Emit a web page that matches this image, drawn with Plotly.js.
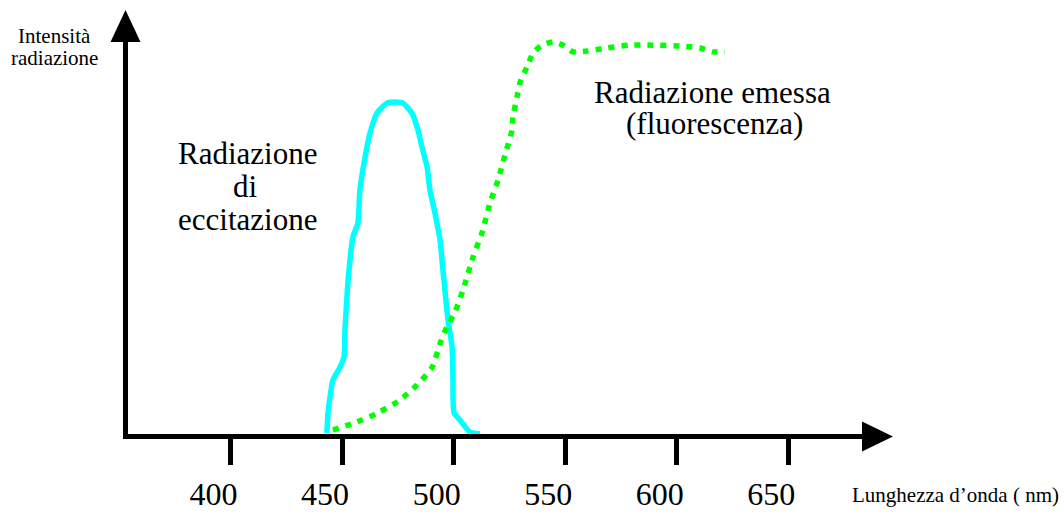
<!DOCTYPE html>
<html>
<head>
<meta charset="utf-8">
<script src="https://cdn.plot.ly/plotly-3.0.1.min.js"></script>
<style>html,body{margin:0;padding:0;background:#fff;}#chart{width:1064px;height:514px;}</style>
</head>
<body>
<div id="chart"></div>
<script>
// Excitation radiation (cyan) — wavelength (nm) and relative intensity
const excitationNm  = [443.2, 443.7, 444.6, 445.9, 449.1, 450.9, 451.3, 452.2, 452.7, 454.9, 457.1, 458.0, 460.3, 462.5, 465.7, 470.1, 473.7, 477.3, 481.3, 484.0, 485.8, 488.1, 489.4, 491.6, 493.9, 495.2, 497.5, 499.3, 499.7, 500.2, 502.8, 507.3, 511.8];
const excitationInt = [0.9, 6.0, 10.0, 14.3, 17.6, 20.2, 27.0, 35.4, 39.7, 50.6, 54.1, 62.5, 70.8, 76.9, 82.0, 84.5, 84.8, 84.5, 82.0, 77.7, 73.4, 68.3, 62.5, 56.7, 49.8, 42.2, 29.5, 22.7, 14.3, 6.0, 4.2, 1.1, 0.7];

// Emitted radiation (green, fluorescence)
const emissionNm  = [445.9, 456.7, 466.1, 476.0, 483.6, 490.4, 494.0, 497.0, 500.6, 504.2, 508.7, 512.7, 516.3, 519.9, 523.0, 526.2, 526.6, 528.4, 529.7, 532.9, 535.6, 539.6, 544.5, 549.0, 553.5, 559.8, 568.8, 579.0, 589.4, 601.5, 610.4, 616.3, 621.6];
const emissionInt = [1.6, 3.7, 6.0, 9.3, 13.1, 17.6, 23.7, 27.8, 31.6, 37.1, 45.5, 51.6, 59.2, 65.0, 71.4, 77.7, 81.0, 86.1, 89.6, 93.7, 97.2, 99.2, 100.0, 99.2, 97.5, 97.7, 98.5, 99.2, 99.2, 99.0, 98.5, 97.5, 97.5];

const tickValues = [400, 450, 500, 550, 600, 650];
const tickLabels = ["400", "450", "500", "550", "600", "650"];

const labelExcitation = ["Radiazione", "di", "eccitazione"];
const labelEmission = ["Radiazione emessa", "(fluorescenza)"];
const yAxisLabel = ["Intensità", "radiazione"];
const xAxisLabel = "Lunghezza d’onda ( nm)";

const serif = "Liberation Serif";

const traces = [
  {x: excitationNm, y: excitationInt, mode: "lines", type: "scatter",
   line: {color: "#00FFFF", width: 5.5, shape: "spline", smoothing: 0.6}, hoverinfo: "skip"},
  {x: emissionNm, y: emissionInt, mode: "lines", type: "scatter",
   line: {color: "#00FF00", width: 5.5, dash: "6px,7px", shape: "spline", smoothing: 0.6}, hoverinfo: "skip"}
];

function ann(text, x, y, size, xref, yref) {
  return {text: text, x: x, y: y, xref: xref || "x", yref: yref || "y", showarrow: false,
          xanchor: "center", yanchor: "middle", font: {family: serif, size: size, color: "#000"}};
}

const annotations = [
  ann(labelExcitation[0], 407.8, 71.7, 31),
  ann(labelExcitation[1], 406.5, 63.3, 31),
  ann(labelExcitation[2], 407.4, 55.1, 31),
  ann(labelEmission[0], 616.2, 87.1, 31),
  ann(labelEmission[1], 617.1, 79.3, 31),
  ann(yAxisLabel[0], -0.0991, 0.9755, 21, "paper", "paper"),
  ann(yAxisLabel[1], -0.0997, 0.9216, 21, "paper", "paper"),
  ann(xAxisLabel, 1.1159, -0.1488, 21, "paper", "paper")
];

const shapes = [
  // up arrow head on y axis
  {type: "path", xref: "paper", yref: "paper", xsizemode: "pixel", ysizemode: "pixel",
   xanchor: 0, yanchor: 1, path: "M -17.5,-16 L 12.5,-16 L -2.5,16 Z",
   fillcolor: "#000", line: {width: 0}, layer: "above"},
  // right arrow head on x axis
  {type: "path", xref: "paper", yref: "paper", xsizemode: "pixel", ysizemode: "pixel",
   xanchor: 1, yanchor: 0, path: "M -8,12.5 L -8,-17.5 L 23,-2.5 Z",
   fillcolor: "#000", line: {width: 0}, layer: "above"}
];

const layout = {
  width: 1064, height: 514,
  margin: {l: 128, r: 194, t: 26, b: 80, pad: 0},
  paper_bgcolor: "#fff", plot_bgcolor: "#fff",
  showlegend: false,
  font: {family: serif, color: "#000"},
  xaxis: {range: [354.06, 686.6], showgrid: false, zeroline: false,
          showline: true, linewidth: 5, linecolor: "#000",
          ticks: "outside", ticklen: 26, tickwidth: 5, tickcolor: "#000",
          tickmode: "array", tickvals: tickValues, ticktext: tickLabels,
          tickfont: {family: serif, size: 32, color: "#000"},
          ticklabelshift: -17, ticklabelstandoff: 2, fixedrange: true},
  yaxis: {range: [0.634, 104.06], showgrid: false, zeroline: false,
          showline: true, linewidth: 5, linecolor: "#000",
          showticklabels: false, ticks: "", fixedrange: true},
  annotations: annotations,
  shapes: shapes
};

Plotly.newPlot("chart", traces, layout, {displayModeBar: false, staticPlot: true});
</script>
</body>
</html>
